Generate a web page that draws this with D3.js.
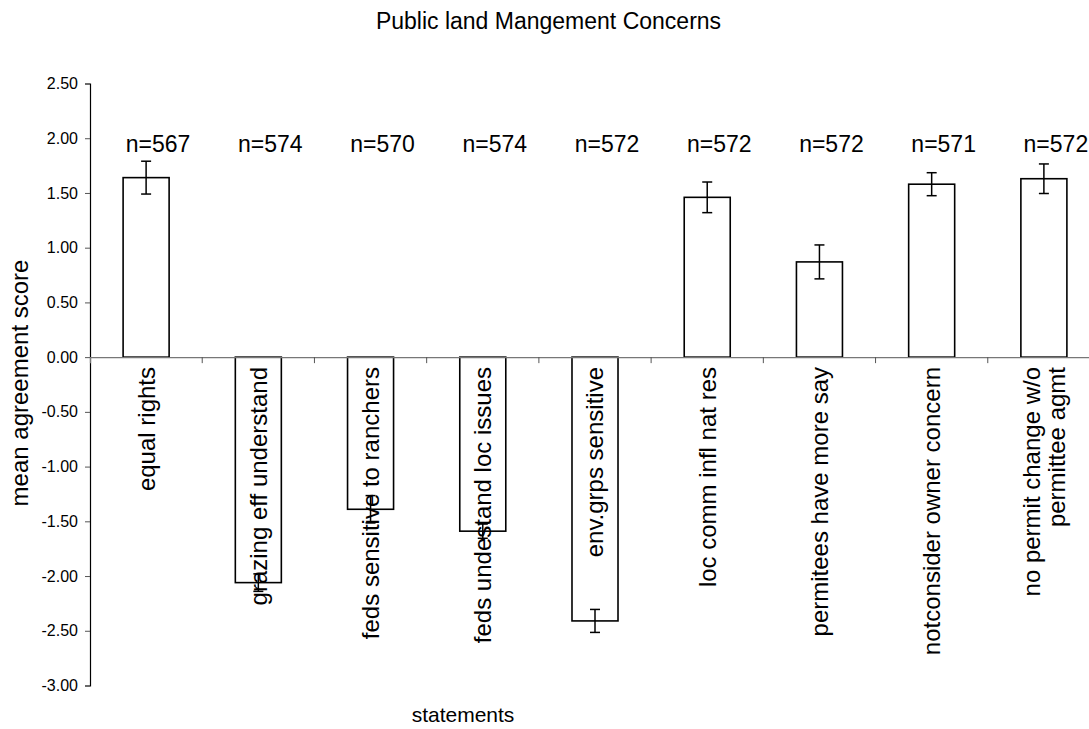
<!DOCTYPE html>
<html>
<head>
<meta charset="utf-8">
<script src="https://cdn.jsdelivr.net/npm/d3@7"></script>
<style>
  html, body { margin: 0; padding: 0; background: #fff; }
  svg { display: block; font-family: "Liberation Sans", Arial, sans-serif; }
</style>
</head>
<body>
<svg id="chart" width="1089" height="729"></svg>
<script>
const categories = [
  "equal rights",
  "grazing eff understand",
  "feds sensitive to ranchers",
  "feds undestand loc issues",
  "env.grps sensitive",
  "loc comm infl nat res",
  "permitees have more say",
  "notconsider owner concern",
  "no permit change w/o\npermittee agmt"
];
const means  = [1.64, -2.06, -1.39, -1.59, -2.41, 1.46, 0.87, 1.58, 1.63];
const errors = [0.15, 0.08, 0.125, 0.065, 0.105, 0.14, 0.155, 0.105, 0.135];
const nCounts = [567, 574, 570, 574, 572, 572, 572, 571, 572];
const yTicks = [2.5, 2.0, 1.5, 1.0, 0.5, 0.0, -0.5, -1.0, -1.5, -2.0, -2.5, -3.0];
const titleText = "Public land Mangement Concerns";
const xTitle = "statements";
const yTitle = "mean agreement score";

const svg = d3.select("#chart");
const data = categories.map((c, i) => ({ cat: c, mean: means[i], err: errors[i], n: nCounts[i] }));

const x = d3.scaleBand().domain(categories).range([90, 1100]).padding(0);
const y = d3.scaleLinear().domain([-3, 2.5]).range([685.5, 83.5]);
const barW = x.bandwidth() * 0.41;
const cx = c => x(c) + x.bandwidth() / 2;

// title
svg.append("text").attr("x", 548.5).attr("y", 29).attr("text-anchor", "middle")
  .attr("font-size", 23).attr("fill", "#000").text(titleText);

// y axis
const fmt = d3.format(".2f");
const yAxis = d3.axisLeft(y).tickValues(yTicks).tickSize(5).tickPadding(7)
  .tickFormat(d => fmt(d).replace("\u2212", "-"));
const gy = svg.append("g").attr("transform", "translate(90,0)").call(yAxis);
gy.select(".domain").attr("stroke", "#000").attr("stroke-width", 1.2);
gy.selectAll(".tick line").attr("stroke", "#555");
gy.selectAll(".tick text").attr("font-size", 16).attr("fill", "#000")
  .attr("font-family", "Liberation Sans, Arial, sans-serif");

// bars
svg.append("g").selectAll("rect").data(data).join("rect")
  .attr("x", d => cx(d.cat) - barW / 2)
  .attr("width", barW)
  .attr("y", d => y(Math.max(0, d.mean)))
  .attr("height", d => Math.abs(y(d.mean) - y(0)))
  .attr("fill", "#fff").attr("stroke", "#000").attr("stroke-width", 1.6);

// zero line (category axis)
const xAxis = d3.axisBottom(x).tickSize(6).tickFormat("");
const gx = svg.append("g").attr("transform", `translate(0,${y(0)})`).call(xAxis);
gx.select(".domain").attr("stroke", "#777").attr("stroke-width", 1.2);
gx.selectAll(".tick").remove();
gx.selectAll("line.bt").data(categories.slice(1)).join("line").attr("class", "bt")
  .attr("x1", d => x(d)).attr("x2", d => x(d)).attr("y1", 0).attr("y2", 6)
  .attr("stroke", "#555").attr("stroke-width", 1);

// error bars
const eg = svg.append("g").attr("stroke", "#000").attr("stroke-width", 1.5);
data.forEach(d => {
  const c = cx(d.cat);
  eg.append("line").attr("x1", c).attr("x2", c).attr("y1", y(d.mean + d.err)).attr("y2", y(d.mean - d.err));
  eg.append("line").attr("x1", c - 5).attr("x2", c + 5).attr("y1", y(d.mean + d.err)).attr("y2", y(d.mean + d.err));
  eg.append("line").attr("x1", c - 5).attr("x2", c + 5).attr("y1", y(d.mean - d.err)).attr("y2", y(d.mean - d.err));
});

// n labels
svg.append("g").selectAll("text").data(data).join("text")
  .attr("x", d => cx(d.cat) + 12).attr("y", 152).attr("text-anchor", "middle")
  .attr("font-size", 23).attr("fill", "#000").text(d => "n=" + d.n);

// category labels (rotated)
const lg = svg.append("g");
data.forEach(d => {
  const lines = d.cat.split("\n");
  const t = lg.append("text")
    .attr("transform", `translate(${cx(d.cat)},367) rotate(-90)`)
    .attr("text-anchor", "end").attr("font-size", 24).attr("fill", "#000");
  const lh = 1.02;
  const start = -(lines.length - 1) * lh / 2;
  lines.forEach((ln, i) => {
    t.append("tspan").attr("x", 0).attr("dy", (i === 0 ? start + 0.35 : lh) + "em").text(ln);
  });
});

// axis titles
svg.append("text").attr("x", 463).attr("y", 722).attr("text-anchor", "middle")
  .attr("font-size", 21).attr("fill", "#000").text(xTitle);
svg.append("text").attr("transform", "translate(28,383) rotate(-90)").attr("text-anchor", "middle")
  .attr("font-size", 24).attr("fill", "#000").text(yTitle);
</script>
</body>
</html>
